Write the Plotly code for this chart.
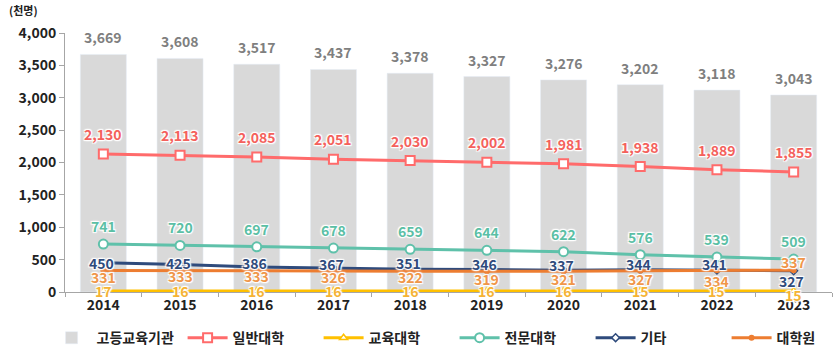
import plotly.graph_objects as go

years = ["2014", "2015", "2016", "2017", "2018", "2019", "2020", "2021", "2022", "2023"]
total = [3669, 3608, 3517, 3437, 3378, 3327, 3276, 3202, 3118, 3043]
general_univ = [2130, 2113, 2085, 2051, 2030, 2002, 1981, 1938, 1889, 1855]
edu_univ = [17, 16, 16, 16, 16, 16, 16, 15, 15, 15]
junior_college = [741, 720, 697, 678, 659, 644, 622, 576, 539, 509]
others = [450, 425, 386, 367, 351, 346, 337, 344, 341, 327]
grad_school = [331, 333, 333, 326, 322, 319, 321, 327, 334, 337]

FONT = "Noto Sans CJK KR"
GRAY_BAR = "#d9d9d9"
RED = "#ff6b6b"
YEL = "#ffc000"
TEAL = "#5fc1aa"
NAVY = "#2f4b7c"
ORANGE = "#ed7d31"
GLOW = "1px 1px 1px #fff, -1px -1px 1px #fff, 1px -1px 1px #fff, -1px 1px 1px #fff, 0 0 3px #fff"

fig = go.Figure()
fig.add_trace(go.Bar(x=years, y=total, name="고등교육기관", marker_color=GRAY_BAR,
                     width=0.6, hoverinfo="skip"))
fig.add_trace(go.Scatter(x=years, y=general_univ, name="일반대학", mode="lines+markers",
                         line=dict(color=RED, width=3),
                         marker=dict(symbol="square", size=9, color="white", line=dict(color=RED, width=2))))
fig.add_trace(go.Scatter(x=years, y=edu_univ, name="교육대학", mode="lines+markers",
                         line=dict(color=YEL, width=3),
                         marker=dict(symbol="triangle-up", size=7, color="white", line=dict(color=YEL, width=1.5))))
fig.add_trace(go.Scatter(x=years, y=junior_college, name="전문대학", mode="lines+markers",
                         line=dict(color=TEAL, width=3),
                         marker=dict(symbol="circle", size=9, color="white", line=dict(color=TEAL, width=2))))
fig.add_trace(go.Scatter(x=years, y=others, name="기타", mode="lines+markers",
                         line=dict(color=NAVY, width=3),
                         marker=dict(symbol="diamond", size=6, color="white", line=dict(color=NAVY, width=1.5))))
fig.add_trace(go.Scatter(x=years, y=grad_school, name="대학원", mode="lines+markers",
                         line=dict(color=ORANGE, width=3),
                         marker=dict(symbol="circle", size=6, color=ORANGE)))

annotations = []

def add_labels(values, color, yshifts, size=14, xshift=0):
    for i, v in enumerate(values):
        ys = yshifts[i] if isinstance(yshifts, list) else yshifts
        annotations.append(dict(x=i, y=v, xref="x", yref="y", text=f"{v:,}", showarrow=False,
                                yshift=ys, xshift=xshift,
                                font=dict(family=FONT, size=size, color=color, weight="bold",
                                          shadow=GLOW)))

add_labels(total, "#7f7f7f", 17)
add_labels(general_univ, "#f4615c", 20)
add_labels(junior_college, "#5bbfa5", 18)
add_labels(grad_school, "#f0964a", [-6, -6, -6, -6, -6, -8, -8, -8, -11, 8])
add_labels(others, NAVY, [0, 1, 4, 4, 6, 6, 5, 6, 6, -10], xshift=-2)
add_labels(edu_univ, "#f5b335", [0, 0, 0, 0, 0, 0, 0, 0, 0, -4])

annotations.append(dict(x=-0.075, y=1.089, xref="paper", yref="paper", text="(천명)", showarrow=False,
                        xanchor="left", yanchor="middle",
                        font=dict(family=FONT, size=11, color="#222", weight="bold")))

fig.update_layout(
    annotations=annotations,
    width=836, height=352,
    margin=dict(l=65, r=4, t=33, b=60, autoexpand=False),
    plot_bgcolor="white", paper_bgcolor="white",
    font=dict(family=FONT, size=12, color="#222"),
    showlegend=True,
    legend=dict(orientation="h", x=-0.024, xanchor="left", y=-0.178, yanchor="middle",
                font=dict(family=FONT, size=14, color="#222", weight="bold"),
                itemwidth=40, entrywidth=81, traceorder="normal"),
    xaxis=dict(type="category", range=[-0.5, 9.5], showline=True, linecolor="#a6a6a6", linewidth=1,
               ticks="outside", tickson="boundaries", ticklen=4, tickcolor="#a6a6a6",
               tickfont=dict(family=FONT, size=14, color="#222", weight="bold"),
               showgrid=False),
    yaxis=dict(range=[0, 4000], tickvals=list(range(0, 4001, 500)), tickformat=",",
               showline=True, linecolor="#a6a6a6", linewidth=1, ticks="outside", ticklen=5,
               tickcolor="#a6a6a6", showgrid=False, zeroline=False,
               tickfont=dict(family=FONT, size=14, color="#222", weight="bold")),
)

fig.write_html("out.html")
